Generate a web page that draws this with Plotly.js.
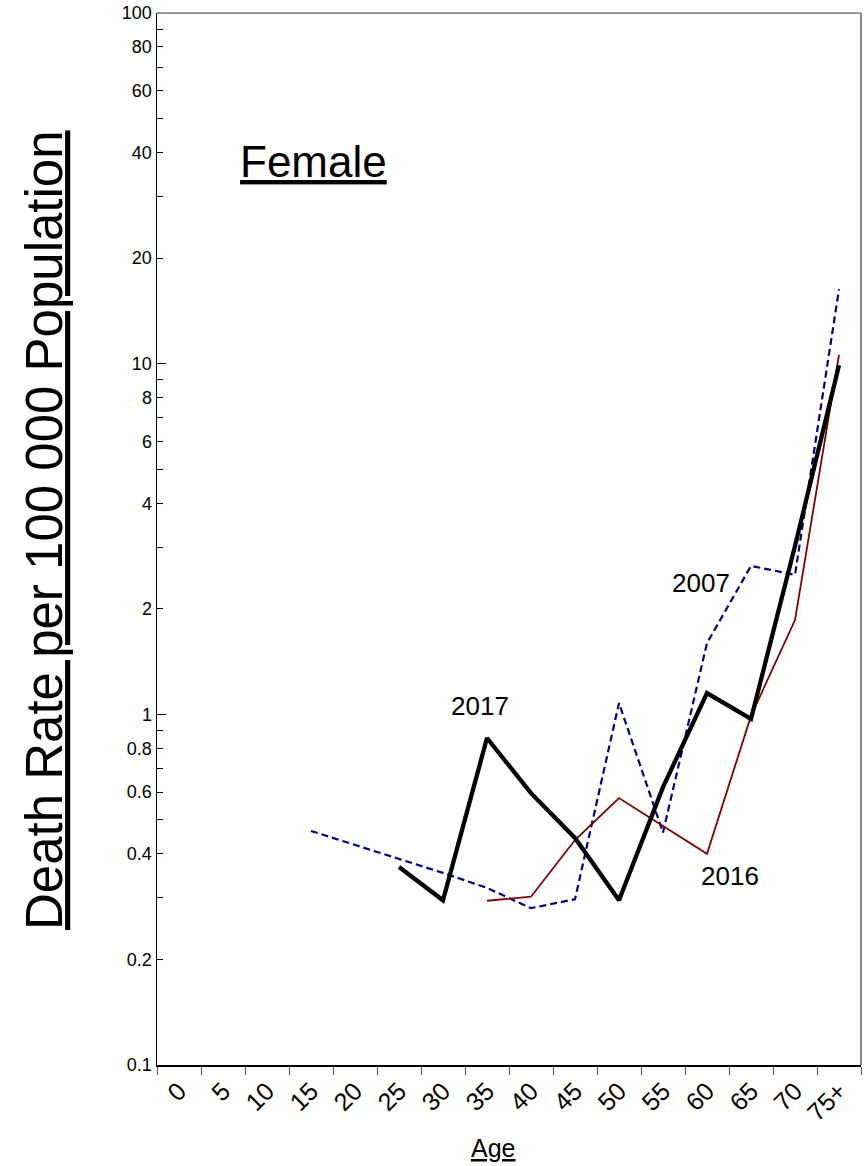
<!DOCTYPE html>
<html>
<head>
<meta charset="utf-8">
<script src="https://cdn.plot.ly/plotly-3.0.1.min.js"></script>
<style>html,body{margin:0;padding:0;background:#fff;}#chart{width:865px;height:1166px;}</style>
</head>
<body>
<div id="chart"></div>
<script>
const ages = ["0","5","10","15","20","25","30","35","40","45","50","55","60","65","70","75+"];
const rate2017 = [null,null,null,null,null,0.367,0.295,0.856,0.596,0.444,0.295,0.620,1.15,0.97,3.02,9.9];
const rate2007 = [null,null,null,0.465,0.424,0.387,0.353,0.320,0.280,0.297,1.077,0.46,1.597,2.65,2.50,16.3];
const rate2016 = [null,null,null,null,null,null,null,0.294,0.302,0.438,0.577,0.480,0.400,0.99,1.857,10.6];
const yTickVals = [0.1,0.2,0.3,0.4,0.5,0.6,0.7,0.8,0.9,1,2,3,4,5,6,7,8,9,10,20,30,40,50,60,70,80,90,100];
const yTickText = ["0.1","0.2","","0.4","","0.6","","0.8","","1","2","","4","","6","","8","","10","20","","40","","60","","80","","100"];
const yLongTicks = [1,10];

const FONT = "Arial, 'Liberation Sans', sans-serif";

const traces = [
  {x: ages, y: rate2007, type: "scatter", mode: "lines", name: "2007",
   line: {color: "#000080", width: 2.2, dash: "7px,4px"}},
  {x: ages, y: rate2016, type: "scatter", mode: "lines", name: "2016",
   line: {color: "#800000", width: 1.8}},
  {x: ages, y: rate2017, type: "scatter", mode: "lines", name: "2017",
   line: {color: "#000000", width: 4.3}}
];

const layout = {
  width: 865, height: 1166,
  margin: {l: 157, r: 4, t: 13, b: 101},
  paper_bgcolor: "#ffffff", plot_bgcolor: "#ffffff",
  showlegend: false,
  font: {family: FONT, color: "#000"},
  xaxis: {
    type: "category", categoryorder: "array", categoryarray: ages,
    range: [-0.5, 15.5], tickson: "boundaries",
    ticks: "outside", ticklen: 8, tickcolor: "#555", tickwidth: 1,
    tickangle: -45, tickfont: {family: FONT, size: 25, color: "#000"},
    showline: true, linecolor: "#000", linewidth: 1.5,
    showgrid: false, zeroline: false, mirror: false, fixedrange: true
  },
  yaxis: {
    type: "log", range: [-1, 2],
    tickmode: "array", tickvals: yTickVals, ticktext: yTickText,
    ticks: "inside", ticklen: 6, tickcolor: "#000", tickwidth: 1,
    tickfont: {family: FONT, size: 18, color: "#000"},
    minor: {tickmode: "array", tickvals: yLongTicks, ticks: "inside", ticklen: 9, tickcolor: "#000", tickwidth: 1, showgrid: false},
    showline: true, linecolor: "#000", linewidth: 1.5,
    showgrid: false, zeroline: false, fixedrange: true
  },
  shapes: [
    {type: "line", xref: "paper", yref: "paper", x0: 0, x1: 1, y0: 1, y1: 1, line: {color: "#333", width: 1.2}},
    {type: "line", xref: "paper", yref: "paper", x0: 1, x1: 1, y0: 0, y1: 1, line: {color: "#888", width: 2}}
  ],
  annotations: [
    {text: "<u>Death Rate per 100 000 Population</u>", xref: "paper", yref: "paper", x: -0.159, y: 0.5086,
     textangle: -90, showarrow: false, xanchor: "center", yanchor: "middle", font: {family: FONT, size: 51, color: "#000"}},
    {text: "<u>Female</u>", xref: "paper", yref: "paper", x: 0.2216, y: 0.8584,
     showarrow: false, xanchor: "center", yanchor: "middle", font: {family: FONT, size: 44, color: "#000"}},
    {text: "2017", xref: "paper", yref: "paper", x: 0.4588, y: 0.3413,
     showarrow: false, xanchor: "center", yanchor: "middle", font: {family: FONT, size: 26, color: "#000"}},
    {text: "2007", xref: "paper", yref: "paper", x: 0.7727, y: 0.4582,
     showarrow: false, xanchor: "center", yanchor: "middle", font: {family: FONT, size: 26, color: "#000"}},
    {text: "2016", xref: "paper", yref: "paper", x: 0.8139, y: 0.1797,
     showarrow: false, xanchor: "center", yanchor: "middle", font: {family: FONT, size: 26, color: "#000"}},
    {text: "<u>Age</u>", xref: "paper", yref: "paper", x: 0.4773, y: -0.0789,
     showarrow: false, xanchor: "center", yanchor: "middle", font: {family: FONT, size: 25, color: "#000"}}
  ]
};

Plotly.newPlot("chart", traces, layout, {displayModeBar: false, staticPlot: true});
</script>
</body>
</html>
